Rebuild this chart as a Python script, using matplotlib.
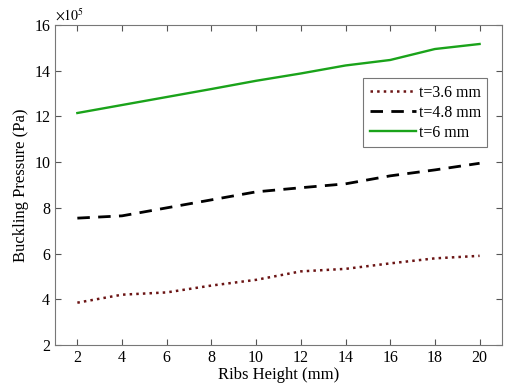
import matplotlib
matplotlib.use('Agg')
import matplotlib.pyplot as plt

plt.rcParams['font.family'] = ['Liberation Serif', 'DejaVu Serif']
plt.rcParams['mathtext.fontset'] = 'stix'

# ribs height (mm) and buckling pressure (x1e5 Pa)
rib_height = [2, 4, 6, 8, 10, 12, 14, 16, 18, 20]
p_t36 = [3.85, 4.2, 4.3, 4.6, 4.85, 5.22, 5.33, 5.57, 5.79, 5.9]
p_t48 = [7.55, 7.65, 8.0, 8.35, 8.7, 8.88, 9.05, 9.4, 9.66, 9.95]
p_t60 = [12.15, 12.5, 12.85, 13.2, 13.56, 13.88, 14.23, 14.47, 14.95, 15.17]
labels = ['t=3.6 mm', 't=4.8 mm', 't=6 mm']

fig = plt.figure(figsize=(5.07, 3.85), dpi=100)
ax = fig.add_axes([0.1085, 0.104, 0.8815, 0.831])

ax.plot(rib_height, p_t36, color='#6b1414', linestyle=':', lw=1.8, label=labels[0])
ax.plot(rib_height, p_t48, color='black', linestyle=(0, (4.5, 3)), lw=2.0, label=labels[1])
ax.plot(rib_height, p_t60, color='#1aa31a', linestyle='-', lw=1.7, label=labels[2])

ax.set_xlim(1, 21)
ax.set_ylim(2, 16)
ax.set_xticks(range(2, 21, 2))
ax.set_yticks(range(2, 17, 2))
ax.tick_params(direction='in', top=True, right=True, labelsize=11.5, length=4, color='#555555')
for s in ax.spines.values():
    s.set_color('#777777')

ax.set_xlabel('Ribs Height (mm)', fontsize=12, labelpad=1)
ax.set_ylabel('Buckling Pressure (Pa)', fontsize=12, labelpad=4)
ax.text(0.0, 1.005, r'$\times10^5$', transform=ax.transAxes, fontsize=10, va='bottom', ha='left')

leg = ax.legend(loc='upper right', bbox_to_anchor=(0.985, 0.858), fontsize=11.5, frameon=True,
                fancybox=False, handlelength=2.9, handletextpad=0.15, borderpad=0.4, labelspacing=0.25)
leg.get_frame().set_edgecolor('#555555')
leg.get_frame().set_linewidth(0.8)

fig.savefig('out.png', dpi=100)
